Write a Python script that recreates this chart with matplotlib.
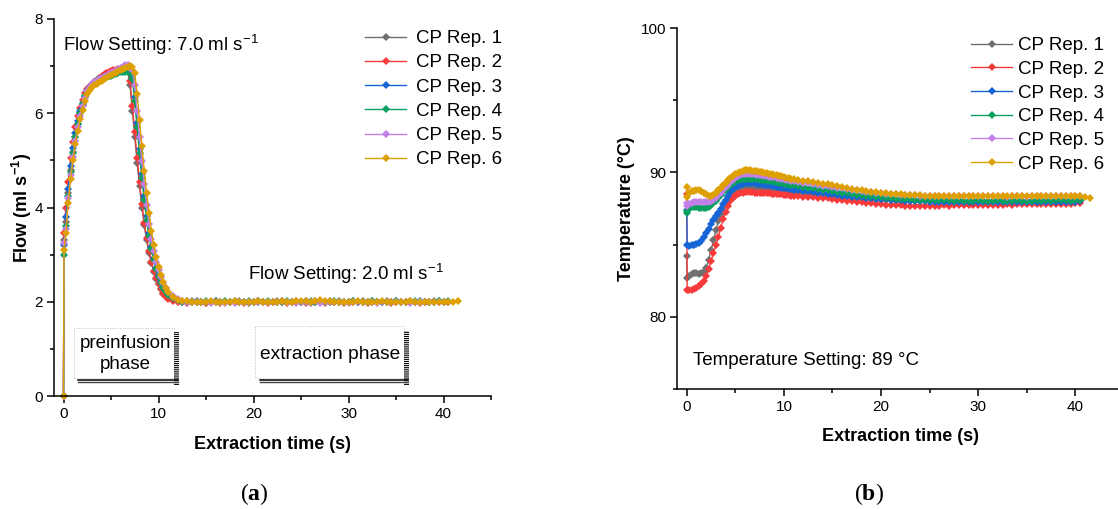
import numpy as np
import matplotlib.pyplot as plt
from matplotlib.patches import Rectangle
from matplotlib.ticker import FixedLocator, MultipleLocator

plt.rcParams['font.family'] = ['Liberation Sans', 'DejaVu Sans']
plt.rcParams['mathtext.fontset'] = 'custom'
plt.rcParams['mathtext.rm'] = 'Liberation Sans'
plt.rcParams['mathtext.bf'] = 'Liberation Serif:bold'
plt.rcParams['hatch.linewidth'] = 0.8

nan = np.nan

# sampling times (s): dense during the transients, coarser on the plateau
time_s = [0, 0.05,
          0.25, 0.5, 0.75, 1.0, 1.25, 1.5, 1.75, 2.0, 2.25, 2.5,
          2.75, 3.0, 3.25, 3.5, 3.75, 4.0, 4.25, 4.5, 4.75, 5.0,
          5.25, 5.5, 5.75, 6.0, 6.25, 6.5, 6.75, 7.0, 7.25, 7.5,
          7.75, 8.0, 8.25, 8.5, 8.75, 9.0, 9.25, 9.5, 9.75, 10.0,
          10.25, 10.5, 10.75, 11.0,
          11.5, 12.0, 12.5, 13.0, 13.5, 14.0, 14.5, 15.0, 15.5, 16.0,
          16.5, 17.0, 17.5, 18.0, 18.5, 19.0, 19.5, 20.0, 20.5, 21.0,
          21.5, 22.0, 22.5, 23.0, 23.5, 24.0, 24.5, 25.0, 25.5, 26.0,
          26.5, 27.0, 27.5, 28.0, 28.5, 29.0, 29.5, 30.0, 30.5, 31.0,
          31.5, 32.0, 32.5, 33.0, 33.5, 34.0, 34.5, 35.0, 35.5, 36.0,
          36.5, 37.0, 37.5, 38.0, 38.5, 39.0, 39.5, 40.0, 40.5, 41.0,
          41.5]

# ---- flow (ml/s) ----
flow_rep1 = [0.0, 3.3,
             3.7, 4.3, 4.8, 5.18, 5.5, 5.77, 6.0, 6.18, 6.34, 6.46,
             6.54, 6.59, 6.63, 6.66, 6.7, 6.73, 6.76, 6.79, 6.82, 6.84,
             6.86, 6.88, 6.89, 6.9, 6.91, 6.92, 6.9, 6.6, 6.05, 5.5,
             4.95, 4.45, 4.0, 3.62, 3.3, 3.04, 2.82, 2.64, 2.49, 2.37,
             2.27, 2.19, 2.13, 2.08,
             2.04, 2.02, 1.99, 2.00, 2.01, 1.99, 2.00, 1.98, 2.00, 2.01,
             1.99, 2.00, 2.00, 1.99, 2.01, 2.00, 1.98, 2.00, 2.01, 2.00,
             1.99, 2.00, 2.01, 1.99, 2.00, 2.00, 2.01, 1.99, 2.00, 1.98,
             2.00, 2.01, 2.00, 1.99, 2.00, 2.01, 2.00, 1.99, 2.00, 2.00,
             2.01, 1.99, 2.00, 2.00, 1.99, 2.01, 2.00, 2.00, 1.99, 2.00,
             2.01, 2.00, 1.99, 2.00, 2.00, 2.01, 2.00, 1.99, 2.00, nan,
             nan]
flow_rep2 = [0.0, 3.45,
             4.0, 4.55, 5.05, 5.4, 5.7, 5.95, 6.12, 6.28, 6.42, 6.52,
             6.58, 6.63, 6.67, 6.71, 6.75, 6.79, 6.82, 6.85, 6.88, 6.9,
             6.92, 6.92, 6.93, 6.93, 6.92, 6.92, 6.9, 6.68, 6.15, 5.6,
             5.05, 4.55, 4.08, 3.68, 3.35, 3.08, 2.85, 2.66, 2.5, 2.37,
             2.26, 2.17, 2.1, 2.05,
             2.02, 2.00, 1.99, 1.98, 2.00, 1.99, 2.00, 1.97, 1.99, 2.00,
             1.98, 2.00, 1.99, 2.00, 1.99, 1.98, 2.00, 1.99, 2.00, 1.99,
             1.98, 2.00, 1.99, 2.00, 1.98, 1.99, 2.00, 1.99, 1.98, 2.00,
             1.99, 2.00, 1.97, 1.99, 2.00, 1.99, 1.98, 2.00, 1.99, 2.00,
             1.99, 1.98, 2.00, 1.99, 2.00, 1.99, 1.98, 2.00, 1.99, 2.00,
             1.99, 2.00, 1.98, 1.99, 2.00, 1.99, 2.00, 1.99, 2.00, nan,
             nan]
flow_rep3 = [0.0, 3.2,
             3.8, 4.4, 4.88, 5.27, 5.58, 5.84, 6.05, 6.22, 6.37, 6.48,
             6.55, 6.6, 6.63, 6.66, 6.69, 6.72, 6.75, 6.77, 6.8, 6.82,
             6.84, 6.86, 6.88, 6.89, 6.9, 6.91, 6.92, 6.92, 6.8, 6.35,
             5.8, 5.25, 4.72, 4.25, 3.82, 3.46, 3.16, 2.92, 2.72, 2.56,
             2.43, 2.32, 2.23, 2.16,
             2.08, 2.03, 2.00, 2.00, 1.99, 2.01, 2.00, 1.99, 2.00, 2.01,
             2.00, 1.99, 2.00, 2.01, 2.00, 2.00, 1.99, 2.00, 2.01, 2.00,
             1.99, 2.00, 2.00, 2.01, 1.99, 2.00, 2.00, 1.99, 2.01, 2.00,
             2.00, 1.99, 2.00, 2.01, 2.00, 1.99, 2.00, 2.00, 2.01, 1.99,
             2.00, 2.00, 2.01, 1.99, 2.00, 2.00, 1.99, 2.01, 2.00, 2.00,
             1.99, 2.00, 2.01, 2.00, 1.99, 2.00, 2.01, 2.00, 2.00, nan,
             nan]
flow_rep4 = [0.0, 3.0,
             3.6, 4.25, 4.75, 5.15, 5.5, 5.78, 6.01, 6.2, 6.36, 6.47,
             6.55, 6.61, 6.66, 6.7, 6.73, 6.75, 6.77, 6.78, 6.79, 6.8,
             6.82, 6.84, 6.86, 6.87, 6.88, 6.88, 6.88, 6.86, 6.72, 6.25,
             5.7, 5.15, 4.62, 4.15, 3.74, 3.4, 3.12, 2.88, 2.69, 2.53,
             2.4, 2.3, 2.21, 2.14,
             2.07, 2.03, 2.00, 2.01, 2.00, 1.99, 2.00, 2.01, 2.00, 1.99,
             2.00, 2.01, 2.00, 1.99, 2.00, 2.00, 2.01, 1.99, 2.00, 2.00,
             2.01, 2.00, 1.99, 2.00, 2.01, 2.00, 2.00, 1.99, 2.00, 2.01,
             2.00, 1.99, 2.00, 2.00, 2.01, 2.00, 1.99, 2.00, 2.01, 2.00,
             2.00, 1.99, 2.01, 2.00, 2.00, 1.99, 2.00, 2.01, 2.00, 1.99,
             2.00, 2.01, 2.00, 2.00, 1.99, 2.00, 2.01, 2.00, 2.01, nan,
             nan]
flow_rep5 = [0.0, 3.25,
             3.55, 4.2, 4.68, 5.08, 5.42, 5.7, 5.95, 6.15, 6.33, 6.47,
             6.56, 6.62, 6.66, 6.69, 6.72, 6.75, 6.77, 6.8, 6.83, 6.86,
             6.88, 6.9, 6.93, 6.96, 6.99, 7.02, 7.03, 7.0, 6.92, 6.6,
             6.05, 5.5, 4.98, 4.5, 4.05, 3.66, 3.34, 3.07, 2.85, 2.67,
             2.52, 2.4, 2.29, 2.2,
             2.12, 2.05, 2.02, 1.99, 2.00, 1.99, 2.00, 2.00, 1.98, 2.00,
             1.99, 1.98, 2.00, 1.97, 1.99, 2.00, 1.99, 2.00, 2.00, 1.99,
             2.00, 1.99, 2.00, 2.01, 1.99, 2.00, 1.98, 2.00, 1.99, 2.00,
             2.01, 1.97, 2.00, 1.99, 2.00, 1.99, 2.00, 1.98, 2.00, 1.99,
             2.00, 1.99, 2.00, 1.98, 2.00, 1.99, 2.00, 2.00, 1.99, 2.00,
             1.98, 2.00, 1.99, 2.00, 2.00, 1.99, 2.00, 1.99, 2.00, nan,
             nan]
flow_rep6 = [0.0, 3.1,
             3.45, 4.1, 4.6, 5.0, 5.35, 5.62, 5.87, 6.07, 6.25, 6.4,
             6.5, 6.55, 6.59, 6.62, 6.66, 6.69, 6.72, 6.75, 6.78, 6.81,
             6.84, 6.86, 6.89, 6.92, 6.94, 6.96, 6.98, 7.0, 6.99, 6.85,
             6.4, 5.85, 5.3, 4.78, 4.3, 3.88, 3.5, 3.2, 2.95, 2.74,
             2.56, 2.42, 2.3, 2.2,
             2.1, 2.04, 2.02, 2.01, 2.00, 2.00, 1.99, 2.00, 2.01, 2.00,
             1.99, 2.00, 2.00, 2.01, 2.00, 1.99, 2.00, 2.00, 2.01, 2.00,
             2.00, 1.99, 2.00, 2.01, 2.00, 2.00, 2.01, 2.02, 2.01, 2.00,
             2.01, 2.03, 2.02, 2.01, 2.00, 2.00, 1.99, 2.00, 2.00, 2.01,
             2.00, 2.00, 1.99, 2.00, 2.01, 2.00, 2.00, 1.99, 2.00, 2.00,
             2.01, 2.00, 2.00, 1.99, 2.00, 2.00, 1.99, 2.00, 2.00, 1.99,
             2.02]

# ---- temperature (degC) ----
temp_rep1 = [84.2, 82.7,
             82.8, 82.95, 83.0, 83.0, 82.98, 83.0, 83.1, 83.4, 83.9, 84.6,
             85.3, 86.0, 86.6, 87.15, 87.6, 87.98, 88.3, 88.52, 88.68, 88.8,
             88.87, 88.92, 88.95, 88.97, 88.98, 88.97, 88.96, 88.95, 88.93, 88.91,
             88.89, 88.87, 88.85, 88.83, 88.81, 88.79, 88.77, 88.75, 88.72, 88.7,
             88.68, 88.65, 88.63, 88.6,
             88.57, 88.54, 88.51, 88.48, 88.45, 88.42, 88.39, 88.36, 88.33, 88.3,
             88.27, 88.24, 88.21, 88.18, 88.16, 88.14, 88.12, 88.1, 88.08, 88.06,
             88.05, 88.04, 88.03, 88.02, 88.01, 88.0, 88.0, 87.99, 87.99, 87.98,
             87.98, 87.97, 87.98, 87.97, 87.98, 87.97, 87.96, 87.97, 87.96, 87.97,
             87.96, 87.97, 87.96, 87.95, 87.96, 87.97, 87.96, 87.95, 87.96, 87.97,
             87.96, 87.97, 87.96, 87.97, 87.98, 87.97, 87.98, 87.99, 88.0, nan,
             nan]
temp_rep2 = [88.5, 81.85,
             81.85, 81.88, 81.92, 82.0, 82.1, 82.25, 82.45, 82.8, 83.3, 83.85,
             84.4, 84.95, 85.55, 86.15, 86.75, 87.25, 87.68, 88.0, 88.22, 88.38,
             88.48, 88.55, 88.6, 88.62, 88.63, 88.62, 88.61, 88.6, 88.59, 88.58,
             88.57, 88.56, 88.55, 88.54, 88.53, 88.52, 88.51, 88.5, 88.48, 88.46,
             88.44, 88.42, 88.4, 88.38,
             88.35, 88.33, 88.31, 88.29, 88.26, 88.23, 88.2, 88.16, 88.12, 88.08,
             88.04, 88.0, 87.96, 87.92, 87.88, 87.85, 87.82, 87.79, 87.77, 87.75,
             87.73, 87.72, 87.7, 87.69, 87.68, 87.67, 87.67, 87.68, 87.69, 87.7,
             87.71, 87.7, 87.72, 87.73, 87.72, 87.74, 87.75, 87.74, 87.76, 87.75,
             87.76, 87.77, 87.76, 87.78, 87.77, 87.78, 87.79, 87.78, 87.79, 87.8,
             87.79, 87.8, 87.81, 87.8, 87.82, 87.83, 87.84, 87.86, 87.9, nan,
             nan]
temp_rep3 = [87.4, 84.95,
             84.93, 84.95, 84.98, 85.02, 85.12, 85.28, 85.5, 85.8, 86.1, 86.4,
             86.68, 86.95, 87.22, 87.5, 87.8, 88.1, 88.38, 88.62, 88.82, 88.98,
             89.08, 89.15, 89.2, 89.24, 89.26, 89.27, 89.26, 89.25, 89.23, 89.21,
             89.19, 89.16, 89.13, 89.1, 89.07, 89.04, 89.01, 88.98, 88.95, 88.92,
             88.89, 88.86, 88.83, 88.8,
             88.76, 88.72, 88.68, 88.64, 88.6, 88.56, 88.52, 88.48, 88.44, 88.4,
             88.36, 88.33, 88.3, 88.27, 88.24, 88.21, 88.18, 88.15, 88.13, 88.11,
             88.09, 88.07, 88.05, 88.03, 88.02, 88.0, 87.99, 87.98, 87.97, 87.97,
             87.96, 87.96, 87.95, 87.96, 87.95, 87.94, 87.95, 87.94, 87.95, 87.94,
             87.95, 87.94, 87.95, 87.94, 87.95, 87.96, 87.95, 87.94, 87.95, 87.96,
             87.95, 87.96, 87.95, 87.96, 87.97, 87.96, 87.97, 87.98, 88.0, nan,
             nan]
temp_rep4 = [87.2, 87.3,
             87.5, 87.6, 87.62, 87.6, 87.56, 87.53, 87.52, 87.55, 87.62, 87.73,
             87.87, 88.05, 88.24, 88.43, 88.62, 88.8, 88.97, 89.12, 89.25, 89.36,
             89.44, 89.5, 89.54, 89.56, 89.57, 89.56, 89.55, 89.53, 89.51, 89.49,
             89.47, 89.45, 89.42, 89.4, 89.37, 89.34, 89.31, 89.28, 89.25, 89.22,
             89.19, 89.16, 89.13, 89.1,
             89.05, 89.0, 88.95, 88.9, 88.85, 88.8, 88.75, 88.7, 88.65, 88.6,
             88.55, 88.5, 88.46, 88.42, 88.38, 88.34, 88.3, 88.27, 88.24, 88.21,
             88.19, 88.17, 88.15, 88.13, 88.12, 88.1, 88.09, 88.08, 88.07, 88.07,
             88.06, 88.06, 88.05, 88.06, 88.05, 88.04, 88.05, 88.06, 88.05, 88.04,
             88.05, 88.06, 88.05, 88.04, 88.05, 88.06, 88.05, 88.04, 88.05, 88.06,
             88.05, 88.06, 88.05, 88.06, 88.07, 88.06, 88.05, 88.06, 88.07, nan,
             nan]
temp_rep5 = [87.9, 87.7,
             87.8, 87.9, 87.95, 87.97, 87.98, 87.97, 87.95, 87.94, 87.95, 88.0,
             88.1, 88.25, 88.42, 88.6, 88.78, 88.96, 89.15, 89.33, 89.5, 89.63,
             89.74, 89.82, 89.87, 89.9, 89.91, 89.9, 89.88, 89.86, 89.84, 89.82,
             89.8, 89.77, 89.74, 89.71, 89.68, 89.65, 89.62, 89.58, 89.55, 89.52,
             89.48, 89.45, 89.42, 89.39,
             89.34, 89.29, 89.24, 89.19, 89.14, 89.09, 89.04, 88.99, 88.94, 88.89,
             88.84, 88.79, 88.75, 88.71, 88.67, 88.63, 88.59, 88.56, 88.53, 88.5,
             88.48, 88.46, 88.44, 88.42, 88.41, 88.4, 88.38, 88.37, 88.37, 88.36,
             88.36, 88.35, 88.36, 88.35, 88.34, 88.35, 88.34, 88.35, 88.34, 88.35,
             88.34, 88.35, 88.34, 88.33, 88.34, 88.35, 88.34, 88.33, 88.34, 88.35,
             88.34, 88.35, 88.34, 88.35, 88.36, 88.35, 88.34, 88.35, 88.34, nan,
             nan]
temp_rep6 = [89.0, 88.3,
             88.55, 88.7, 88.72, 88.75, 88.75, 88.72, 88.6, 88.5, 88.4, 88.35,
             88.45, 88.58, 88.75, 88.92, 89.1, 89.27, 89.45, 89.6, 89.75, 89.88,
             89.98, 90.06, 90.12, 90.15, 90.15, 90.14, 90.13, 90.1, 90.08, 90.05,
             90.02, 89.98, 89.95, 89.92, 89.88, 89.84, 89.8, 89.76, 89.72, 89.68,
             89.63, 89.59, 89.55, 89.52,
             89.47, 89.42, 89.37, 89.32, 89.27, 89.22, 89.17, 89.1, 89.04, 88.98,
             88.92, 88.86, 88.81, 88.76, 88.71, 88.66, 88.62, 88.58, 88.55, 88.52,
             88.5, 88.47, 88.45, 88.44, 88.42, 88.41, 88.4, 88.39, 88.38, 88.38,
             88.37, 88.37, 88.36, 88.37, 88.36, 88.35, 88.36, 88.35, 88.36, 88.35,
             88.35, 88.36, 88.35, 88.34, 88.35, 88.36, 88.35, 88.34, 88.35, 88.36,
             88.35, 88.34, 88.35, 88.36, 88.35, 88.36, 88.37, 88.36, 88.35, 88.3,
             88.22]

labels = ['CP Rep. 1', 'CP Rep. 2', 'CP Rep. 3', 'CP Rep. 4', 'CP Rep. 5', 'CP Rep. 6']
colors = ['#707070', '#f83a3a', '#1565d6', '#0aa060', '#c27fe8', '#dea000']
flow_reps = [flow_rep1, flow_rep2, flow_rep3, flow_rep4, flow_rep5, flow_rep6]
temp_reps = [temp_rep1, temp_rep2, temp_rep3, temp_rep4, temp_rep5, temp_rep6]

W, H = 1118, 509
fig = plt.figure(figsize=(W / 100, H / 100), dpi=100)
ax1 = fig.add_axes([54 / W, 113 / H, 437 / W, 377 / H])
ax2 = fig.add_axes([677 / W, 120 / H, 447 / W, 361 / H])


def style_axis(ax):
    for s in ['top', 'right']:
        ax.spines[s].set_visible(False)
    for s in ['left', 'bottom']:
        ax.spines[s].set_linewidth(1.1)
    ax.tick_params(which='major', direction='out', length=5, width=1.1, labelsize=11, pad=3)
    ax.tick_params(which='minor', direction='out', length=3, width=1.1)
    ax.xaxis.set_major_locator(FixedLocator([0, 10, 20, 30, 40]))
    ax.xaxis.set_minor_locator(FixedLocator([5, 15, 25, 35, 45]))


def plot_reps(ax, reps):
    for vals, c, lab in zip(reps, colors, labels):
        ax.plot(time_s, vals, color=c, lw=1.0, marker='D', ms=4.0, mew=0,
                label=lab, clip_on=False)


# ---- (a) flow ----
plot_reps(ax1, flow_reps)
style_axis(ax1)
ax1.set_xlim(-1, 45)
ax1.set_ylim(0, 8)
ax1.yaxis.set_major_locator(MultipleLocator(2))
ax1.yaxis.set_minor_locator(MultipleLocator(1))
ax1.set_xlabel('Extraction time (s)', fontsize=13, fontweight='bold', labelpad=11)
ax1.set_ylabel(r'Flow (ml s$^{\mathdefault{-1}}$)', fontsize=13, fontweight='bold', labelpad=0)
ax1.text(-0.1, 7.45, r'Flow Setting: 7.0 ml s$^{\mathdefault{-1}}$', fontsize=13.5, va='center')
ax1.text(19.4, 2.6, r'Flow Setting: 2.0 ml s$^{\mathdefault{-1}}$', fontsize=13.5, va='center')
ax1.legend(loc='upper left', bbox_to_anchor=(365 / W, 1 - 30 / H), bbox_transform=fig.transFigure,
           frameon=False, fontsize=13.5, handlelength=2.2, handletextpad=0.5,
           labelspacing=0.38, borderpad=0, borderaxespad=0)

# phase annotations
for x0, x1, y0, y1 in [(1.1, 11.6, 0.38, 1.45), (20.2, 35.8, 0.39, 1.48)]:
    ax1.add_patch(Rectangle((x0, y0), x1 - x0, y1 - y0, fill=False, ec='#c0c0c0', lw=0.7, ls=':'))
    ax1.plot([x0 + 0.45, x1 + 0.5], [0.35, 0.35], color='black', lw=1.1)
    ax1.plot([x0 + 0.45, x1 + 0.5], [0.29, 0.29], color='#444444', lw=1.0)
    ax1.add_patch(Rectangle((x1, 0.23), 0.55, y1 - 0.33, fill=False, lw=0, ec='black', hatch='-' * 8))
ax1.text(6.5, 0.9, 'preinfusion\nphase', fontsize=13.5, ha='center', va='center', linespacing=1.3)
ax1.text(28.1, 0.88, 'extraction phase', fontsize=13.8, ha='center', va='center')

# ---- (b) temperature ----
plot_reps(ax2, temp_reps)
style_axis(ax2)
ax2.set_xlim(-1, 45)
ax2.set_ylim(75, 100)
ax2.yaxis.set_major_locator(FixedLocator([80, 90, 100]))
ax2.yaxis.set_minor_locator(FixedLocator([75, 85, 95]))
ax2.set_xlabel('Extraction time (s)', fontsize=13, fontweight='bold', labelpad=10)
ax2.set_ylabel('Temperature (°C)', fontsize=13, fontweight='bold', labelpad=4)
ax2.text(0.6, 77.0, 'Temperature Setting: 89 °C', fontsize=13.5, va='center')
ax2.legend(loc='upper left', bbox_to_anchor=(971 / W, 1 - 37 / H), bbox_transform=fig.transFigure,
           frameon=False, fontsize=13.5, handlelength=2.2, handletextpad=0.3,
           labelspacing=0.35, borderpad=0, borderaxespad=0)

# panel letters
fig.text(254 / W, 1 - 494 / H, r'($\mathbf{a}$)', family='Liberation Serif', fontsize=17,
         ha='center', va='center')
fig.text(869 / W, 1 - 494 / H, r'($\mathbf{b}$)', family='Liberation Serif', fontsize=17,
         ha='center', va='center')

fig.savefig('out.png', dpi=100)
